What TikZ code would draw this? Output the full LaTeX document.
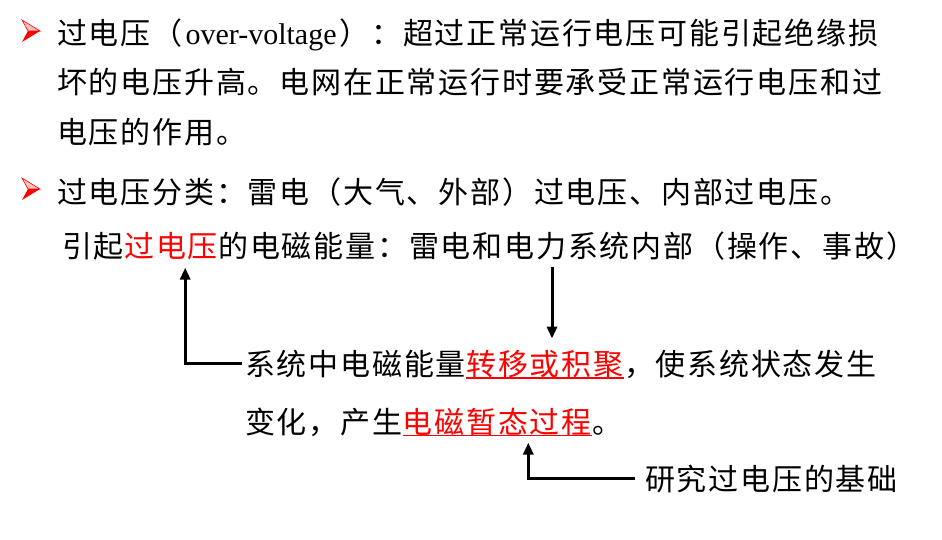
\documentclass[tikz,border=0pt]{standalone}
\usepackage{fontspec}
\newfontfamily\cjk[LetterSpace=6]{Noto Sans CJK SC}
\newfontfamily\latin{Liberation Serif}
\usetikzlibrary{arrows.meta}
\def\bulletmark(#1,#2){\begin{scope}[shift={(#1,#2)}]
	\filldraw[draw=red, fill=red!25, line width=0.6pt] (0,0) -- (18,11) -- (6,11) -- cycle;
	\fill[red] (6,11) -- (18,11) -- (0,22) -- cycle;
\end{scope}}

\begin{document}
\begin{tikzpicture}[x=1pt, y=-1pt,
	txt/.style={anchor=base west, inner sep=0pt, font={\cjk\fontsize{30}{36}\selectfont}},
	hot/.style={txt, text=red},
	uline/.style={red, line width=1.2pt},
	conn/.style={line width=3pt, -{Triangle[length=12pt,width=10pt]}}]
				%%%%% START %%%%%
				\useasboundingbox (0,0) rectangle (942,539);
				
				\bulletmark(22,20)
				\node[txt] (l1) at (57,44) {过电压（\hspace{3pt}{\latin over-voltage}\hspace{3pt}）：超过正常运行电压可能引起绝缘损};
				\node[txt] (l2) at (57,93) {坏的电压升高。电网在正常运行时要承受正常运行电压和过};
				\node[txt] (l3) at (57,143) {电压的作用。};
				
				\bulletmark(22,178)
				\node[txt] (l4) at (57,203) {过电压分类：雷电（大气、外部）过电压、内部过电压。};
				
				\node[txt] (l5a) at (62,257) {引起};
				\node[hot] (l5b) at (l5a.base east) {过电压};
				\node[txt] (l5c) at (l5b.base east) {的电磁能量：雷电和电力系统内部（操作、事故）};
				
				\node[txt] (l6a) at (245,375) {系统中电磁能量};
				\node[hot] (l6b) at (l6a.base east) {转移或积聚};
				\node[txt] (l6c) at (l6b.base east) {，使系统状态发生};
				\draw[uline] (l6b.south west) -- (l6b.south east);
				
				\node[txt] (l7a) at (245,433) {变化，产生};
				\node[hot] (l7b) at (l7a.base east) {电磁暂态过程};
				\node[txt] (l7c) at (l7b.base east) {。};
				\draw[uline] (l7b.south west) -- (l7b.south east);
				
				\node[txt] (l8) at (645,490) {研究过电压的基础};
				
				\draw[conn, shorten >=8pt] ([xshift=-3pt]l6a.west) -| ([xshift=14pt]l5b.south);
				\draw[conn, shorten <=7pt, shorten >=11pt] ([xshift=7pt]l6b.north |- l5c.south) -- ([xshift=7pt]l6b.north);
				\draw[conn, shorten >=7pt] ([xshift=-10pt]l8.west) -| ([xshift=31pt]l7b.south);
				%%%%% END %%%%%
\end{tikzpicture}
\end{document}
